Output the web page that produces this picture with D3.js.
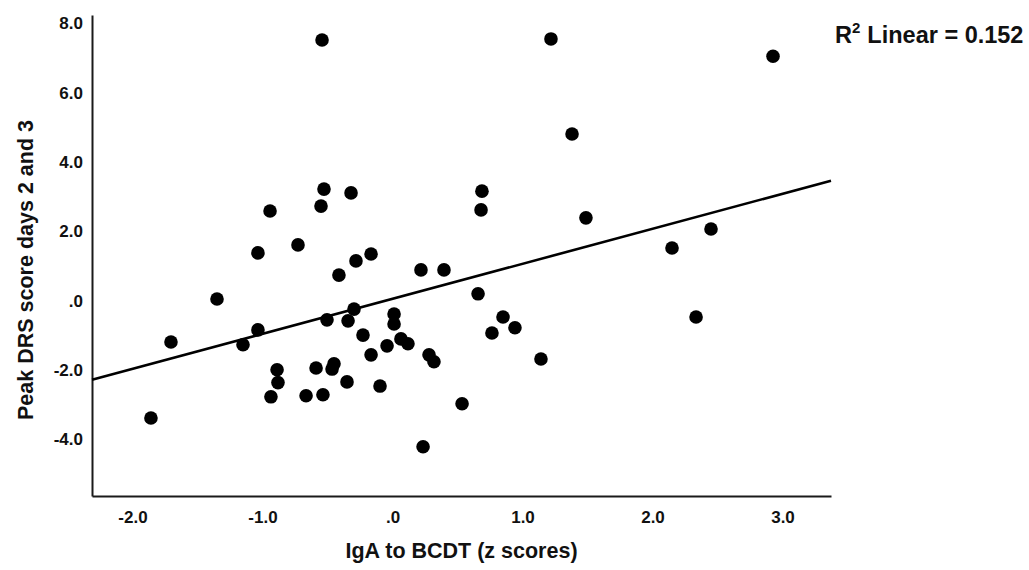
<!DOCTYPE html>
<html>
<head>
<meta charset="utf-8">
<script src="https://cdn.jsdelivr.net/npm/d3@7"></script>
<style>
  body { margin: 0; background: #fff; }
  svg { display: block; font-family: "Liberation Sans", Arial, sans-serif; font-weight: bold; }
</style>
</head>
<body>
<svg id="chart"></svg>
<script>
// IgA to BCDT (z scores)
const igaZ = [
  -1.858, -1.704, -1.350, -1.150, -1.035, -1.035, -0.942, -0.888, -0.881, -0.935,
  -0.727, -0.665, -0.588, -0.542, -0.550, -0.527, -0.535, -0.504, -0.465, -0.450,
  -0.412, -0.342, -0.350, -0.319, -0.296, -0.281, -0.227, -0.165, -0.165, -0.096,
  -0.042, 0.012, 0.012, 0.065, 0.119, 0.219, 0.235, 0.281, 0.319, 0.396,
  0.535, 0.658, 0.688, 0.681, 0.765, 0.850, 0.942, 1.142, 1.219, 1.381,
  1.488, 2.150, 2.335, 2.450, 2.927
]
// Peak DRS score days 2 and 3
const peakDrs = [
  -3.38, -1.19, 0.05, -1.27, -0.84, 1.38, 2.59, -1.99, -2.36, -2.77,
  1.61, -2.74, -1.94, 7.52, 2.73, 3.22, -2.71, -0.55, -1.97, -1.82,
  0.74, -0.58, -2.34, 3.11, -0.24, 1.15, -0.99, 1.35, -1.56, -2.46,
  -1.30, -0.38, -0.67, -1.10, -1.24, 0.89, -4.21, -1.56, -1.76, 0.89,
  -2.97, 0.20, 3.16, 2.62, -0.93, -0.47, -0.78, -1.68, 7.55, 4.81,
  2.39, 1.52, -0.47, 2.07, 7.05
]

const xTicks = [-2, -1, 0, 1, 2, 3]
const yTicks = [-4, -2, 0, 2, 4, 6, 8]
const xDomain = [-2.3115, 3.373]
const yDomain = [-5.63, 8.24]

// fit line
const fitIntercept = 0.055
const fitSlope = 1.01
const rSquared = "0.152"

const width = 1029
const height = 570
const margin = {top: 15, right: 198, bottom: 74, left: 92}

const data = igaZ.map((x, i) => ({x, y: peakDrs[i]}))

const x = d3.scaleLinear()
    .domain(xDomain)
    .range([margin.left, width - margin.right])

const y = d3.scaleLinear()
    .domain(yDomain)
    .range([height - margin.bottom, margin.top])

// SPSS style labels: ".0", "-2.0" (plain hyphen)
const fmt = d => d === 0 ? ".0" : d.toFixed(1)

const svg = d3.select("#chart")
    .attr("width", width)
    .attr("height", height)
    .attr("viewBox", [0, 0, width, height])

const xAxis = g => g
    .attr("transform", `translate(0,${height - margin.bottom})`)
    .call(d3.axisBottom(x).tickValues(xTicks).tickFormat(fmt).tickSize(0).tickPadding(15))
    .call(g => g.select(".domain").attr("stroke", "#1a1a1a").attr("stroke-width", 2))
    .call(g => g.selectAll("text")
        .attr("font-family", "'Liberation Sans', Arial, sans-serif")
        .attr("font-weight", "bold")
        .attr("font-size", 17)
        .attr("fill", "#111"))

const yAxis = g => g
    .attr("transform", `translate(${margin.left},0)`)
    .call(d3.axisLeft(y).tickValues(yTicks).tickFormat(fmt).tickSize(0).tickPadding(9))
    .call(g => g.select(".domain").attr("stroke", "#1a1a1a").attr("stroke-width", 2))
    .call(g => g.selectAll("text")
        .attr("font-family", "'Liberation Sans', Arial, sans-serif")
        .attr("font-weight", "bold")
        .attr("font-size", 17)
        .attr("fill", "#111"))

svg.append("g").call(xAxis)
svg.append("g").call(yAxis)

// regression line across the full x range
svg.append("line")
    .attr("x1", x(xDomain[0]))
    .attr("y1", y(fitIntercept + fitSlope * xDomain[0]))
    .attr("x2", x(xDomain[1]))
    .attr("y2", y(fitIntercept + fitSlope * xDomain[1]))
    .attr("stroke", "#000")
    .attr("stroke-width", 2.6)

svg.append("g")
  .selectAll("circle")
  .data(data)
  .join("circle")
    .attr("cx", d => x(d.x))
    .attr("cy", d => y(d.y))
    .attr("r", 6.8)
    .attr("fill", "#000")

// axis titles
svg.append("text")
    .attr("x", (margin.left + width - margin.right) / 2)
    .attr("y", 558)
    .attr("text-anchor", "middle")
    .attr("font-size", 21.5)
    .attr("fill", "#111")
    .text("IgA to BCDT (z scores)")

svg.append("text")
    .attr("transform", "translate(33,270) rotate(-90)")
    .attr("text-anchor", "middle")
    .attr("font-size", 21.5)
    .attr("fill", "#111")
    .text("Peak DRS score days 2 and 3")

// R² annotation
const r2 = svg.append("text")
    .attr("x", 835)
    .attr("y", 43)
    .attr("font-size", 23.5)
    .attr("fill", "#111")
r2.append("tspan").text("R")
r2.append("tspan").attr("font-size", 15).attr("dy", -10).text("2")
r2.append("tspan").attr("dy", 10).attr("dx", 7).text("Linear = " + rSquared)
</script>
</body>
</html>
